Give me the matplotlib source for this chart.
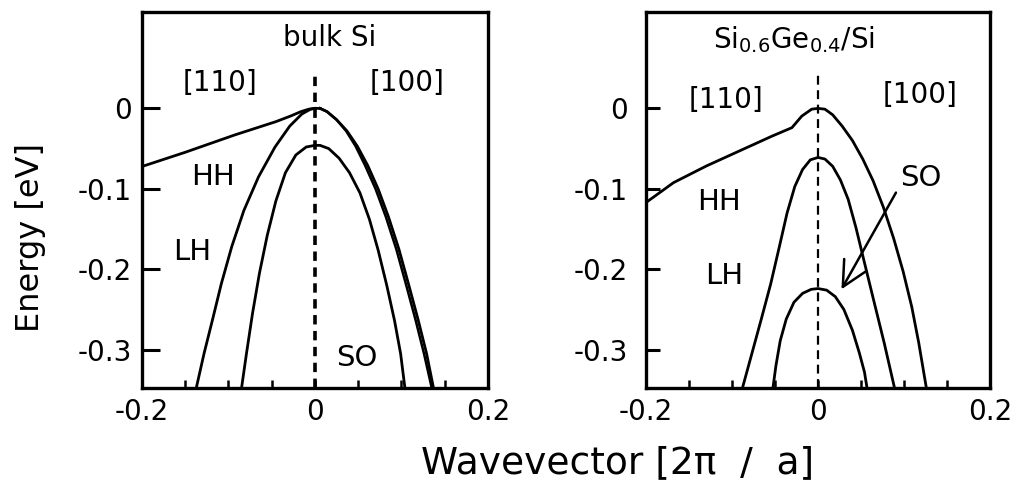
import matplotlib
matplotlib.use("Agg")
import matplotlib.pyplot as plt

plt.rcParams["font.family"] = ["DejaVu Sans"]
plt.rcParams["mathtext.default"] = "regular"

# ---- bulk Si (left panel) ----
si_hh110_k = [-0.2, -0.15, -0.0924, -0.045, -0.028, -0.016, -0.007, 0.0, 0.006]
si_hh110_e = [-0.0724, -0.0547, -0.033, -0.0165, -0.0095, -0.004, -0.001, 0.0, 0.0]

# [100]: HH and LH almost on top of each other
si_100a_k = [0.006, 0.014, 0.025, 0.037, 0.049, 0.061, 0.073, 0.085, 0.097, 0.108, 0.119, 0.129, 0.137]
si_100a_e = [0.0, -0.004, -0.014, -0.028, -0.047, -0.071, -0.100, -0.135, -0.175, -0.218, -0.262, -0.305, -0.348]
si_100b_k = [0.006, 0.014, 0.025, 0.036, 0.047, 0.058, 0.070, 0.082, 0.094, 0.105, 0.116, 0.126, 0.135]
si_100b_e = [0.0, -0.004, -0.014, -0.028, -0.047, -0.071, -0.100, -0.135, -0.175, -0.218, -0.262, -0.305, -0.348]

si_lh_k = [-0.137, -0.128, -0.118, -0.108, -0.096, -0.082, -0.065, -0.046, -0.029, -0.015, -0.005, 0.0]
si_lh_e = [-0.348, -0.305, -0.262, -0.218, -0.172, -0.127, -0.085, -0.048, -0.022, -0.007, -0.001, 0.0]

si_so_k = [-0.0847, -0.079, -0.072, -0.064, -0.055, -0.045, -0.034, -0.022, -0.010, 0.0,
           0.006, 0.016, 0.028, 0.040, 0.052, 0.063, 0.073, 0.083, 0.092, 0.099, 0.104]
si_so_e = [-0.348, -0.305, -0.255, -0.205, -0.158, -0.115, -0.080, -0.058, -0.048, -0.046,
           -0.046, -0.050, -0.062, -0.080, -0.105, -0.138, -0.176, -0.220, -0.264, -0.305, -0.348]

# ---- Si0.6Ge0.4/Si (right panel) ----
sg_hh_k = [-0.2, -0.168, -0.130, -0.0916, -0.0533, -0.0304, -0.0189, -0.0074, 0.0,
           0.008, 0.017, 0.028, 0.040, 0.052, 0.064, 0.076, 0.088, 0.099, 0.109, 0.117, 0.126]
sg_hh_e = [-0.117, -0.0923, -0.0717, -0.053, -0.0344, -0.024, -0.0096, -0.001, 0.0,
           -0.001, -0.008, -0.022, -0.040, -0.063, -0.090, -0.123, -0.162, -0.203, -0.247, -0.291, -0.348]

sg_lh_k = [-0.088, -0.077, -0.066, -0.055, -0.045, -0.036, -0.027, -0.018, -0.009, 0.0,
           0.008, 0.017, 0.026, 0.035, 0.044, 0.054, 0.065, 0.077, 0.089]
sg_lh_e = [-0.348, -0.305, -0.262, -0.218, -0.172, -0.130, -0.097, -0.076, -0.064, -0.061,
           -0.063, -0.072, -0.089, -0.113, -0.148, -0.192, -0.240, -0.292, -0.348]

sg_so_k = [-0.0525, -0.049, -0.044, -0.037, -0.028, -0.018, -0.008, 0.0,
           0.010, 0.020, 0.030, 0.040, 0.048, 0.054, 0.057]
sg_so_e = [-0.348, -0.320, -0.289, -0.262, -0.241, -0.230, -0.225, -0.224,
           -0.226, -0.234, -0.250, -0.276, -0.304, -0.328, -0.348]

so_arrow_tail = (0.0906, -0.1047)
so_arrow_head = (0.0272, -0.225)

x_ticks = [-0.2, -0.15, -0.1, -0.05, 0.0, 0.05, 0.1, 0.15, 0.2]
x_labels = ["-0.2", "", "", "", "0", "", "", "", "0.2"]
y_ticks = [0.0, -0.1, -0.2, -0.3]
y_labels = ["0", "-0.1", "-0.2", "-0.3"]

fig = plt.figure(figsize=(10.19, 4.94), dpi=100)
ax1 = fig.add_axes([0.139, 0.214, 0.340, 0.762])
ax2 = fig.add_axes([0.634, 0.214, 0.3376, 0.762])

LW = 2.0
for ax, ylen, ypad in [(ax1, 13, 7), (ax2, 10, 13)]:
    ax.set_xlim(-0.2, 0.2)
    ax.set_ylim(-0.348, 0.12)
    ax.set_xticks(x_ticks)
    ax.set_xticklabels(x_labels)
    ax.set_yticks(y_ticks)
    ax.set_yticklabels(y_labels)
    ax.tick_params(axis="x", direction="in", length=6, width=1.8, labelsize=20, pad=7, top=False)
    ax.tick_params(axis="y", direction="in", length=ylen, width=2.2, labelsize=20, pad=ypad, right=False)
    for s in ax.spines.values():
        s.set_linewidth(2.4)

# left panel
ax1.plot(si_hh110_k, si_hh110_e, color="black", lw=LW)
ax1.plot(si_100a_k, si_100a_e, color="black", lw=LW)
ax1.plot(si_100b_k, si_100b_e, color="black", lw=LW * 0.9)
ax1.plot(si_lh_k, si_lh_e, color="black", lw=LW)
ax1.plot(si_so_k, si_so_e, color="black", lw=LW)
ax1.plot([0, 0], [-0.348, 0.043], color="black", lw=2.6, linestyle=(0, (2.6, 1.8)))

ax1.text(0.017, 0.087, "bulk Si", fontsize=20, ha="center", va="center")
ax1.text(-0.11, 0.032, "[110]", fontsize=20, ha="center", va="center")
ax1.text(0.107, 0.032, "[100]", fontsize=20, ha="center", va="center")
ax1.text(-0.118, -0.085, "HH", fontsize=21, ha="center", va="center")
ax1.text(-0.142, -0.178, "LH", fontsize=21, ha="center", va="center")
ax1.text(0.049, -0.31, "SO", fontsize=21, ha="center", va="center")

# right panel
ax2.plot(sg_hh_k, sg_hh_e, color="black", lw=LW)
ax2.plot(sg_lh_k, sg_lh_e, color="black", lw=LW)
ax2.plot(sg_so_k, sg_so_e, color="black", lw=LW)
ax2.plot([0, 0], [-0.348, 0.043], color="black", lw=1.6, linestyle=(0, (4, 2.5)))

ax2.text(-0.028, 0.086, "Si$_{0.6}$Ge$_{0.4}$/Si", fontsize=20, ha="center", va="center")
ax2.text(-0.107, 0.011, "[110]", fontsize=20, ha="center", va="center")
ax2.text(0.119, 0.017, "[100]", fontsize=20, ha="center", va="center")
ax2.text(0.12, -0.086, "SO", fontsize=21, ha="center", va="center")
ax2.text(-0.115, -0.117, "HH", fontsize=21, ha="center", va="center")
ax2.text(-0.109, -0.209, "LH", fontsize=21, ha="center", va="center")
ax2.annotate("", xy=so_arrow_head, xytext=so_arrow_tail,
             arrowprops=dict(arrowstyle="->,head_length=0.9,head_width=0.45",
                             lw=1.8, color="black", mutation_scale=20,
                             shrinkA=0, shrinkB=0))

fig.text(0.03, 0.52, "Energy [eV]", fontsize=23, rotation=90, ha="center", va="center")
fig.text(0.606, 0.063, "Wavevector [2π  /  a]", fontsize=27, ha="center", va="center")

fig.savefig("out.png", dpi=100)
